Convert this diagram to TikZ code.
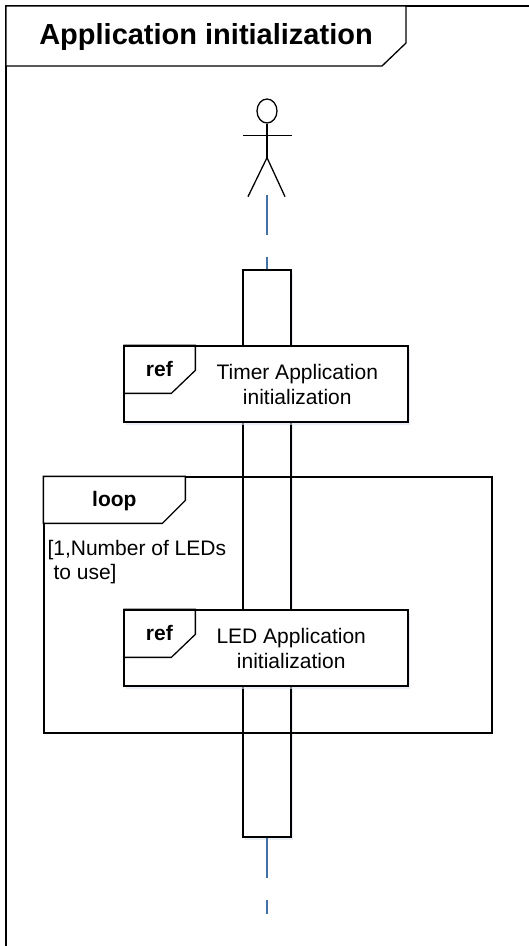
\documentclass[tikz,border=0pt]{standalone}
\usepackage{fontspec}
\setmainfont{Liberation Sans}
\usetikzlibrary{calc,shadows,shapes.geometric}
\definecolor{lifeblue}{RGB}{65,113,165}
\tikzset{
    umlline/.style={draw=black, line width=1.3pt},
    umlbox/.style={umlline, fill=white, rectangle, inner sep=0pt, drop shadow={shadow xshift=2pt, shadow yshift=-3pt, fill=lifeblue!20, opacity=0.6}},
    lifeline/.style={draw=lifeblue, line width=2pt, dash pattern=on 40pt off 22pt},
    tablabel/.style={font=\bfseries\fontsize{21}{24}\selectfont, anchor=base, inner sep=0pt},
    reflabel/.style={font=\fontsize{21}{25}\selectfont, align=center, anchor=west, inner sep=0pt},
}

\begin{document}
\begin{tikzpicture}[x=1pt, y=-1pt]
    \useasboundingbox (0,0) rectangle (528,946);

    \draw[umlline] (6,960) -- (6,6) -- (540,6);

    \draw[umlline, fill=white] (6,6) -- (406,6) -- (406,43) -- (382,66) -- (6,66) -- cycle;
    \node[font=\bfseries\fontsize{29}{34}\selectfont, anchor=base, inner sep=0pt] (title) at (206,44) {Application initialization};

    \node[ellipse, umlline, minimum width=20pt, minimum height=24pt, inner sep=0pt] (head) at (267,111) {};
    \draw[umlline] (head.south) -- ++(0,34) coordinate (hip);
    \draw[umlline] ($(head.south)+(-24,12)$) -- ++(49,0);
    \draw[umlline] ($(hip)+(-19,39)$) -- (hip) -- ($(hip)+(18,39)$);
    \coordinate (lifetop) at ($(hip)+(0,37)$);

    \node[umlbox, minimum width=48pt, minimum height=567pt] (act) at (267,553.5) {};
    \draw[lifeline] (lifetop) -- (act.north);
    \coordinate (lifeend) at ($(act.south)+(0,76)$);
    \draw[lifeline] (act.south) -- (lifeend);

    \node[umlline, rectangle, minimum width=448pt, minimum height=256pt, inner sep=0pt] (loopframe) at (268,605) {};
    \draw[umlline, fill=white] (loopframe.north west) -- ++(142,0) -- ++(0,24) -- ++(-23,23) -- ++(-119,0) -- cycle;
    \node[tablabel] (looptag) at ($(loopframe.north west)+(71,30)$) {loop};
    \node[font=\fontsize{21}{24}\selectfont, align=left, anchor=north west, inner sep=0pt] (guard) at ($(loopframe.north west)+(4,64)$) {[1,Number of LEDs\\\hspace*{6pt}to use]};

    \node[umlbox, minimum width=284pt, minimum height=76pt] (timerref) at (266,384) {};
    \draw[umlline] (timerref.north west) -- ++(72,0) -- ++(0,25) -- ++(-24,23) -- ++(-48,0);
    \node[tablabel] (timertag) at ($(timerref.north west)+(36,31)$) {ref};
    \node[reflabel] (timertext) at ($(timerref.west)+(93,0)$) {Timer Application\\initialization};

    \node[umlbox, minimum width=284pt, minimum height=76pt] (ledref) at (266,648) {};
    \draw[umlline] (ledref.north west) -- ++(72,0) -- ++(0,25) -- ++(-24,23) -- ++(-48,0);
    \node[tablabel] (ledtag) at ($(ledref.north west)+(36,31)$) {ref};
    \node[reflabel] (ledtext) at ($(ledref.west)+(93,0)$) {LED Application\\initialization};
\end{tikzpicture}
\end{document}
